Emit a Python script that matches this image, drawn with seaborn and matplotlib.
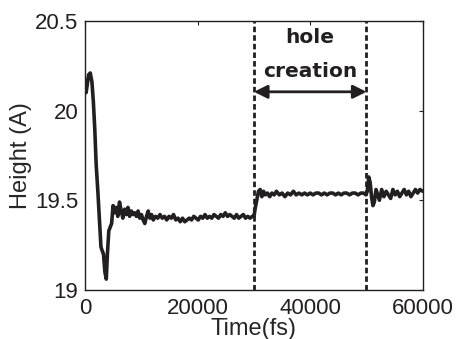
import matplotlib
matplotlib.use("Agg")
import matplotlib.pyplot as plt
import seaborn as sns
import pandas as pd

# time (fs) and height (A)
time_fs = [0, 150, 350, 600, 900, 1200, 1450, 1700, 1950, 2250, 2550, 2800,
           3000, 3250, 3500, 3750, 3950, 4200, 4450, 4700, 4950, 5200,
           5500, 5800, 6100, 6400, 6700, 7000, 7300, 7600, 7900, 8200,
           8500, 8800, 9100, 9400, 9700, 10000, 10300, 10600, 10900, 11200,
           11500, 11800, 12100, 12500, 12900, 13300, 13700, 14100, 14500,
           14900, 15300, 15700, 16100, 16500, 16900, 17300, 17700, 18100,
           18500, 18900, 19300, 19700, 20100, 20500, 20900, 21300, 21700,
           22100, 22500, 22900, 23300, 23700, 24100, 24500, 24900, 25300,
           25700, 26100, 26500, 26900, 27300, 27700, 28100, 28500, 28900,
           29300, 29700, 30000, 30250, 30500, 30800, 31100, 31400, 31700,
           32000, 32400, 32800, 33200, 33600, 34000, 34500, 35000, 35500,
           36000, 36500, 37000, 37500, 38000, 38500, 39000, 39500, 40000,
           40500, 41000, 41500, 42000, 42500, 43000, 43500, 44000, 44500,
           45000, 45500, 46000, 46500, 47000, 47500, 48000, 48500, 49000,
           49500, 49900, 50150, 50400, 50650, 50900, 51150, 51400, 51700,
           52000, 52300, 52700, 53100, 53500, 53900, 54300, 54700, 55100,
           55500, 55900, 56300, 56700, 57100, 57500, 57900, 58300, 58700,
           59100, 59500, 60000]
height_a = [20.17, 20.10, 20.14, 20.20, 20.21, 20.16, 20.05, 19.90, 19.70,
            19.55, 19.38, 19.24, 19.22, 19.20, 19.10, 19.06, 19.20, 19.33,
            19.35, 19.37, 19.47, 19.43, 19.46, 19.41, 19.49, 19.44, 19.40,
            19.45, 19.42, 19.46, 19.41, 19.44, 19.42, 19.43, 19.41, 19.44,
            19.40, 19.42, 19.39, 19.37, 19.41, 19.44, 19.40, 19.42, 19.39,
            19.41, 19.40, 19.42, 19.40, 19.41, 19.39, 19.41, 19.40, 19.42,
            19.39, 19.40, 19.38, 19.40, 19.38, 19.39, 19.40, 19.39, 19.41,
            19.40, 19.39, 19.41, 19.40, 19.42, 19.40, 19.41, 19.40, 19.42,
            19.41, 19.40, 19.42, 19.41, 19.43, 19.41, 19.42, 19.41, 19.40,
            19.42, 19.40, 19.41, 19.42, 19.40, 19.41, 19.40, 19.41, 19.41,
            19.46, 19.50, 19.55, 19.56, 19.52, 19.55, 19.53, 19.54, 19.52,
            19.54, 19.53, 19.55, 19.53, 19.54, 19.52, 19.54, 19.53, 19.55,
            19.53, 19.54, 19.53, 19.54, 19.53, 19.54, 19.53, 19.54, 19.54,
            19.53, 19.54, 19.53, 19.54, 19.54, 19.53, 19.54, 19.53, 19.54,
            19.54, 19.53, 19.54, 19.54, 19.53, 19.54, 19.54, 19.53,
            19.55, 19.63, 19.60, 19.52, 19.47, 19.49, 19.56, 19.53, 19.50,
            19.56, 19.52, 19.55, 19.53, 19.51, 19.56, 19.53, 19.55, 19.52,
            19.54, 19.56, 19.53, 19.55, 19.52, 19.54, 19.56, 19.54, 19.56,
            19.55]
event_times = [30000, 50000]
x_ticks = [0, 20000, 40000, 60000]
y_ticks = [19, 19.5, 20, 20.5]
y_tick_labels = ["19", "19.5", "20", "20.5"]

sns.set_style("white")
plt.rcParams["font.family"] = ["Liberation Sans", "DejaVu Sans"]

df = pd.DataFrame({"time": time_fs, "height": height_a})
ink = "#231f20"

fig = plt.figure(figsize=(4.58, 3.39), dpi=100)
ax = fig.add_axes([0.186, 0.145, 0.737, 0.793])

sns.lineplot(data=df, x="time", y="height", ax=ax, color=ink,
             linewidth=2.6, sort=False, estimator=None)

for t in event_times:
    ax.axvline(t, color=ink, linestyle=(0, (2.0, 1.1)), linewidth=2.0)

# double arrow spanning the hole-creation window
ax.annotate("", xy=(event_times[0], 20.105), xytext=(event_times[1], 20.105),
            arrowprops=dict(arrowstyle="<|-|>,head_length=0.8,head_width=0.4",
                            color=ink, lw=2, shrinkA=0, shrinkB=0))
mid = sum(event_times) / 2
ax.text(mid, 20.38, "hole", ha="center", va="baseline",
        fontsize=14.5, fontweight="bold", family="DejaVu Sans", color=ink)
ax.text(mid, 20.185, "creation", ha="center", va="baseline",
        fontsize=14.5, fontweight="bold", family="DejaVu Sans", color=ink)

ax.set_xlim(0, 60000)
ax.set_ylim(19, 20.5)
ax.set_xticks(x_ticks)
ax.set_yticks(y_ticks)
ax.set_yticklabels(y_tick_labels)
ax.tick_params(direction="in", length=3, width=0.8, labelsize=16,
               top=True, right=True, colors=ink)
ax.tick_params(axis="x", pad=6)
ax.tick_params(axis="y", pad=5)
for s in ax.spines.values():
    s.set_linewidth(1.0)
    s.set_color(ink)

ax.set_xlabel("Time(fs)", fontsize=17, labelpad=-0.5)
ax.set_ylabel("Height (A)", fontsize=17, labelpad=2)

fig.savefig("out.png", dpi=100)
